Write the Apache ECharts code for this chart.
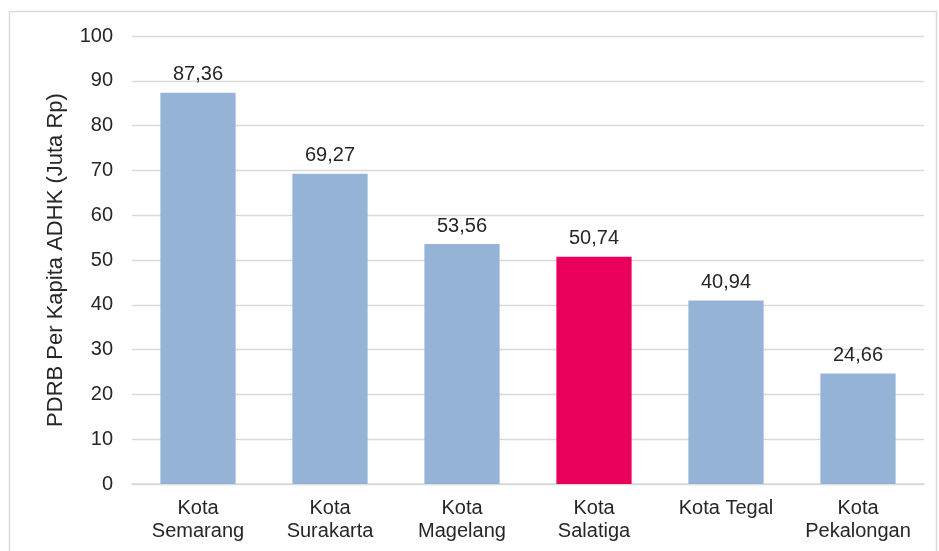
<!DOCTYPE html>
<html><head><meta charset="utf-8">
<script src="https://cdn.jsdelivr.net/npm/echarts@6/dist/echarts.min.js"></script>
<style>html,body{margin:0;padding:0;background:#fff}#c{width:939px;height:551px}</style>
</head><body><div id="c"></div>
<script>
const categories = ['Kota\nSemarang','Kota\nSurakarta','Kota\nMagelang','Kota\nSalatiga','Kota Tegal','Kota\nPekalongan'];
const values = [87.36, 69.27, 53.56, 50.74, 40.94, 24.66];
const highlightIndex = 3;
const yTicks = {min: 0, max: 100, interval: 10};

const chart = echarts.init(document.getElementById('c'), null, {renderer: 'canvas'});
const font = 'Liberation Sans, Arial, sans-serif';
chart.setOption({
  animation: false,
  graphic: [{type: 'rect', shape: {x: 9.5, y: 11.5, width: 927, height: 560}, style: {fill: 'none', stroke: '#d9d9d9', lineWidth: 1.5}}],
  grid: {left: 132, right: 15, top: 36, bottom: 67},
  xAxis: {
    type: 'category', data: categories,
    axisTick: {show: false},
    axisLine: {lineStyle: {color: '#d9d9d9', width: 1.5}},
    axisLabel: {color: '#262626', fontFamily: font, fontSize: 20, lineHeight: 23, margin: 13, interval: 0}
  },
  yAxis: {
    type: 'value', min: yTicks.min, max: yTicks.max, interval: yTicks.interval,
    name: 'PDRB Per Kapita ADHK (Juta Rp)', nameLocation: 'middle', nameGap: 65,
    nameTextStyle: {color: '#262626', fontFamily: font, fontSize: 22},
    axisLine: {show: false}, axisTick: {show: false},
    axisLabel: {color: '#262626', fontFamily: font, fontSize: 20, margin: 19},
    splitLine: {lineStyle: {color: '#d9d9d9', width: 1.3}}
  },
  series: [{
    type: 'bar', barCategoryGap: '43%',
    data: values.map((v, i) => ({value: v, itemStyle: {color: i === highlightIndex ? '#E8005A' : '#95B3D7'}})),
    label: {show: true, position: 'top', distance: 8, color: '#262626', fontFamily: font, fontSize: 20,
      formatter: p => p.value.toFixed(2).replace('.', ',')}
  }]
});
</script></body></html>
